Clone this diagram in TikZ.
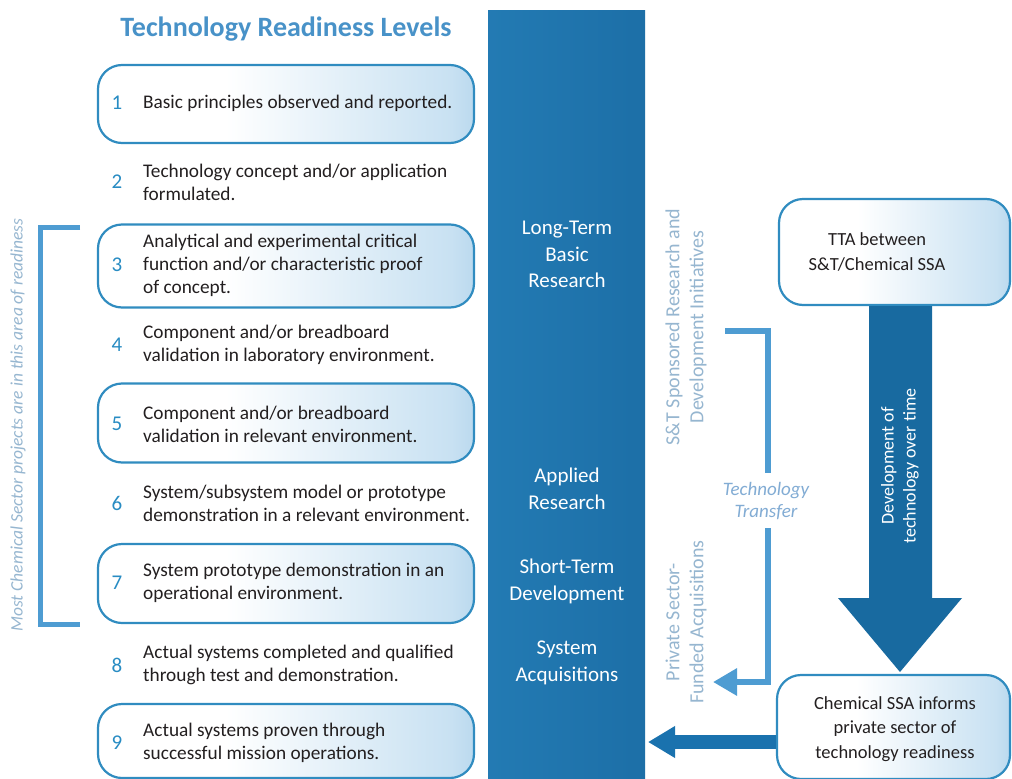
\documentclass[tikz,border=0pt]{standalone}
\usepackage{fontspec}
\setmainfont{Carlito}
\usetikzlibrary{arrows.meta,calc}
\definecolor{bordercol}{RGB}{48,140,192}
\definecolor{numcol}{RGB}{40,140,195}
\definecolor{bodycol}{RGB}{35,31,32}
\definecolor{titlecol}{RGB}{72,146,200}
\definecolor{bracketcol}{RGB}{78,156,210}
\definecolor{lighttext}{RGB}{150,182,208}
\definecolor{ttcol}{RGB}{130,172,212}
\definecolor{bigarrcol}{RGB}{24,106,160}
\definecolor{botarrcol}{RGB}{26,114,174}
\definecolor{bmid}{RGB}{200,225,242}
\definecolor{bdark}{RGB}{115,175,218}
\definecolor{bend}{RGB}{62,140,196}
\definecolor{colA}{RGB}{38,128,185}
\definecolor{colB}{RGB}{28,110,166}
\definecolor{colC}{RGB}{14,84,134}
\pgfdeclarehorizontalshading{boxshade}{100bp}{color(0bp)=(white); color(42bp)=(white); color(72bp)=(bmid); color(91bp)=(bdark); color(100bp)=(bend)}
\pgfdeclarehorizontalshading{colshade}{100bp}{color(0bp)=(colA); color(80bp)=(colB); color(100bp)=(colC)}
\tikzset{
  lvlbox/.style={draw=bordercol, line width=2.2pt, rounded corners=24pt, shading=boxshade, inner sep=0pt},
  lvlnum/.style={text=numcol, font=\fontsize{21}{23}\selectfont, inner sep=0pt},
  lvltext/.style={text=bodycol, anchor=west, align=left, font=\fontsize{19.3}{23}\selectfont, inner sep=0pt},
  coltext/.style={text=white, align=center, font=\fontsize{21}{26.5}\selectfont, inner sep=0pt},
  sidetext/.style={text=lighttext, align=center, rotate=90, font=\fontsize{20}{24}\selectfont, inner sep=0pt},
  bracketline/.style={draw=bracketcol, line width=5pt},
  ttline/.style={draw=bracketcol, line width=6pt},
  rightbox/.style={draw=bordercol, line width=2.2pt, rounded corners=24pt, shading=boxshade, inner sep=0pt},
  righttext/.style={text=bodycol, align=center, font=\fontsize{18.5}{24.5}\selectfont, inner sep=0pt}
}
\begin{document}
\begin{tikzpicture}[x=1pt,y=-1pt]
\useasboundingbox (0,0) rectangle (1012,779);
\fill[white] (0,0) rectangle (1012,779);

% title
\node[text=titlecol, font=\bfseries\fontsize{28}{30}\selectfont, inner sep=0pt] (title) at (286,29) {Technology Readiness Levels};

% level boxes
\node[lvlbox, minimum width=376pt, minimum height=78pt] (b1) at (286,104) {};
\node[lvlbox, minimum width=376pt, minimum height=83pt] (b3) at (286,266) {};
\node[lvlbox, minimum width=376pt, minimum height=79pt] (b5) at (286,423) {};
\node[lvlbox, minimum width=376pt, minimum height=79pt] (b7) at (286,583.5) {};
\node[lvlbox, minimum width=376pt, minimum height=74pt] (b9) at (286,741) {};

% numbers
\foreach \n/\y in {1/103,2/182,3/265,4/345,5/424,6/503,7/583,8/665,9/743}
  \node[lvlnum] (n\n) at (117,\y) {\n};

% texts
\node[lvltext] (t1) at (143,103) {Basic principles observed and reported.};
\node[lvltext] (t2) at (143,182) {Technology concept and/or application\\formulated.};
\node[lvltext] (t3) at (143,265) {Analytical and experimental critical\\function and/or characteristic proof\\of concept.};
\node[lvltext] (t4) at (143,345) {Component and/or breadboard\\validation in laboratory environment.};
\node[lvltext] (t5) at (143,424) {Component and/or breadboard\\validation in relevant environment.};
\node[lvltext] (t6) at (143,503) {System/subsystem model or prototype\\demonstration in a relevant environment.};
\node[lvltext] (t7) at (143,583) {System prototype demonstration in an\\operational environment.};
\node[lvltext] (t8) at (143,665) {Actual systems completed and qualified\\through test and demonstration.};
\node[lvltext] (t9) at (143,743) {Actual systems proven through\\successful mission operations.};

% left bracket
\draw[bracketline] (80,227) -- (40,227) -- (40,624) -- (80,624);
\node[text=lighttext, rotate=90, font=\itshape\fontsize{17.5}{19}\selectfont, inner sep=0pt] (most) at (18,425) {Most Chemical Sector projects are in this area of readiness};

% central column
\node[shading=colshade, minimum width=157pt, minimum height=769pt, inner sep=0pt] (col) at (566.5,394.5) {};
\node[coltext] (c1) at (567,254.5) {Long-Term\\Basic\\Research};
\node[coltext] (c2) at (567,489) {Applied\\Research};
\node[coltext] (c3) at (567,581.5) {Short-Term\\Development};
\node[coltext] (c4) at (567,663) {System\\Acquisitions};

% side texts
\node[sidetext] (st) at (686,327) {S\&T Sponsored Research and\\Development Initiatives};
\node[sidetext] (ps) at (686,622) {Private Sector-\\Funded Acquisitions};
\node[text=ttcol, align=center, font=\itshape\fontsize{19}{22}\selectfont, inner sep=0pt] (tt) at (766,501) {Technology\\Transfer};

% technology transfer bracket
\coordinate (ttA) at (725,331);
\coordinate (ttB) at (768,473);
\coordinate (ttC) at (768,528);
\coordinate (ttD) at (713,682);
\draw[ttline] (ttA) -| (ttB);
\draw[ttline, -{Triangle[length=24pt,width=26pt]}] (ttC) |- (ttD);

% right boxes
\node[rightbox, minimum width=231pt, minimum height=106pt] (tta) at (894.5,252) {};
\node[righttext] (ttatext) at (877,252) {TTA between\\S\&T/Chemical SSA};
\node[rightbox, minimum width=233pt, minimum height=104pt] (bot) at (893.5,727) {};
\node[righttext] (bottext) at (895,729) {Chemical SSA informs\\private sector of\\technology readiness};

% big arrow
\coordinate (A) at (tta.south -| 900,0);
\coordinate (B) at (900,672);
\fill[bigarrcol] ($(A)+(-31,0)$) -- ($(A)+(32,0)$) -- ($(B)+(32,-74)$) -- ($(B)+(62,-74)$) -- (B) -- ($(B)+(-62,-74)$) -- ($(B)+(-31,-74)$) -- cycle;
\node[text=white, align=center, rotate=90, font=\fontsize{18}{22}\selectfont, inner sep=0pt] (dev) at (900,466) {Development of\\technology over time};

% bottom arrow
\coordinate (botEnd) at (648,742);
\draw[draw=botarrcol, line width=14pt, -{Triangle[length=27pt,width=30pt]}] (bot.west |- botEnd) -- (botEnd);
\end{tikzpicture}
\end{document}
